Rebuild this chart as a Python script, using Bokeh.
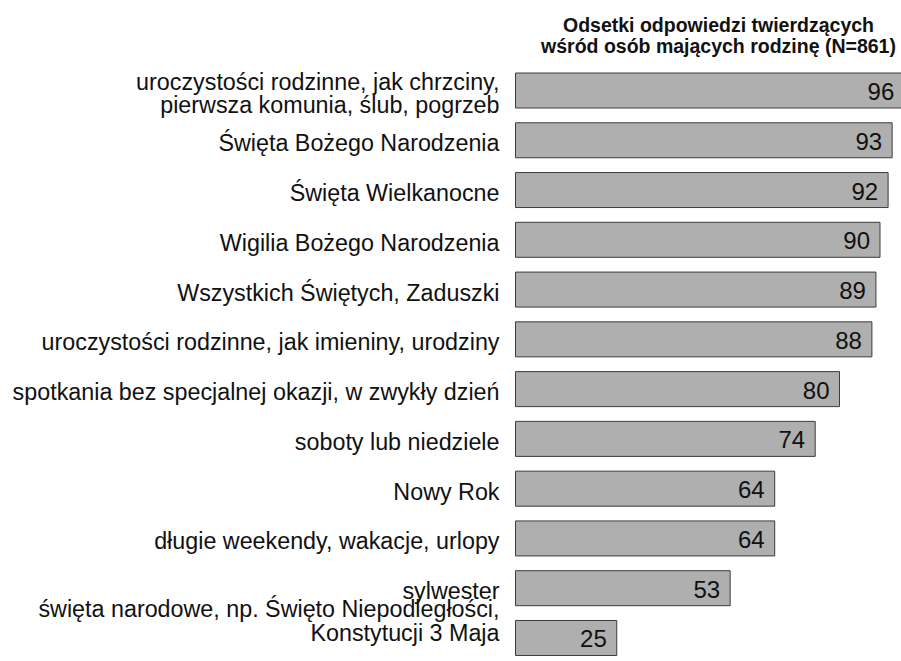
from bokeh.plotting import figure
from bokeh.models import Range1d, ColumnDataSource
from bokeh.core.properties import value
from bokeh.embed import file_html
from bokeh.resources import INLINE

categories = [
    "uroczystości rodzinne, jak chrzciny,\npierwsza komunia, ślub, pogrzeb",
    "Święta Bożego Narodzenia",
    "Święta Wielkanocne",
    "Wigilia Bożego Narodzenia",
    "Wszystkich Świętych, Zaduszki",
    "uroczystości rodzinne, jak imieniny, urodziny",
    "spotkania bez specjalnej okazji, w zwykły dzień",
    "soboty lub niedziele",
    "Nowy Rok",
    "długie weekendy, wakacje, urlopy",
    "sylwester",
    "święta narodowe, np. Święto Niepodległości,\nKonstytucji 3 Maja",
]
values = [96, 93, 92, 90, 89, 88, 80, 74, 64, 64, 53, 25]
title_lines = ["Odsetki odpowiedzi twierdzących", "wśród osób mających rodzinę (N=861)"]

W, H = 901, 661
xscale = 4.05
x0_px = 515.0
ypitch = 49.77
y0_px = 90.0
label_fs = 23.3
line_h = 0.92

n = len(values)
idx = list(range(n))

# vertical offsets of labels: lift a label whose block would reach past the bottom edge
label_off = []
for i, c in enumerate(categories):
    nl = c.count("\n") + 1
    centre = y0_px + i * ypitch
    bottom = centre + 3 + (nl - 1) * label_fs * 0.95 / 2 + label_fs * 0.5
    off = 3 - max(0.0, bottom - (H - 18))
    label_off.append(off)

src = ColumnDataSource(dict(y=idx, v=values, lab=categories,
                            vs=[str(v) for v in values], loff=label_off))

p = figure(width=W, height=H, output_backend="svg", toolbar_location=None,
           min_border=0, min_border_left=0, min_border_right=0,
           min_border_top=0, min_border_bottom=0)
p.x_range = Range1d(-x0_px / xscale, (W - x0_px) / xscale)
ytop = -y0_px / ypitch
ybot = (n - 1) + (H - (y0_px + (n - 1) * ypitch)) / ypitch
p.y_range = Range1d(ybot, ytop)
p.axis.visible = False
p.grid.visible = False
p.outline_line_color = None
p.background_fill_color = "white"
p.border_fill_color = "white"

p.hbar(y="y", left=0, right="v", height=35 / ypitch, source=src,
       fill_color="#afafaf", line_color="#3c3c3c", line_width=1)

p.text(x=0, y="y", text="lab", source=src, x_offset=-16, y_offset="loff",
       text_align="right", text_baseline="middle",
       text_font=value("Liberation Sans"), text_font_size=f"{label_fs}px",
       text_color="#111111", text_line_height=line_h)

p.text(x="v", y="y", text="vs", source=src, x_offset=-10, y_offset=1,
       text_align="right", text_baseline="middle",
       text_font=value("Liberation Sans"), text_font_size="24px",
       text_color="#111111")

tx = (718 - x0_px) / xscale
p.text(x=[tx, tx], y=[ytop + 24 / ypitch, ytop + 45 / ypitch], text=title_lines,
       text_align="center", text_baseline="middle",
       text_font=value("Liberation Sans"), text_font_size="19.5px",
       text_font_style="bold", text_color="#111111")

open("out.html", "w").write(file_html(p, INLINE))
